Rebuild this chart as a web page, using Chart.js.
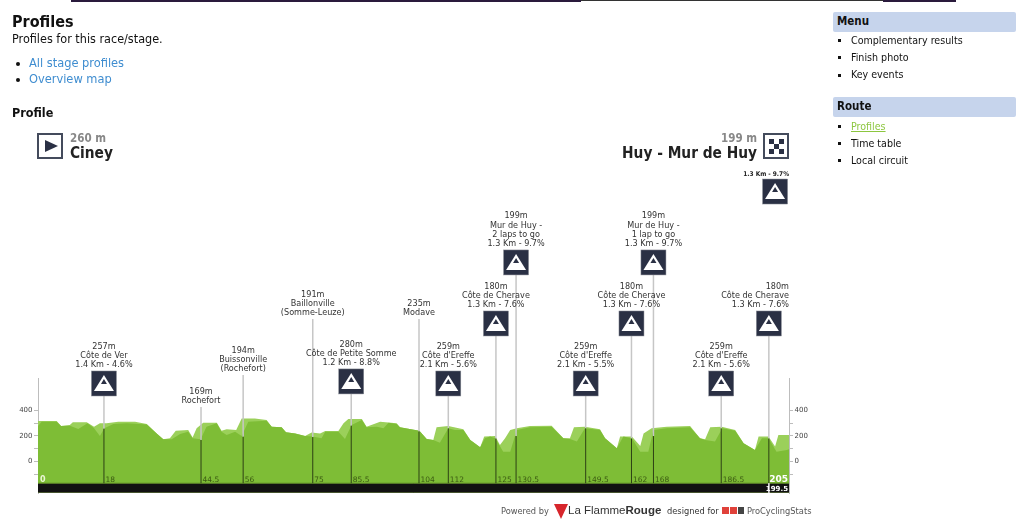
<!DOCTYPE html>
<html lang="en">
<head>
<meta charset="UTF-8">
<title>Profiles</title>
<script src="https://cdn.jsdelivr.net/npm/chart.js"></script>
<style>
    html, body { margin: 0; padding: 0; background: #fff; width: 1024px; height: 522px; overflow: hidden; }
    body { font-family: "DejaVu Sans Condensed", "DejaVu Sans", sans-serif; color: #111; position: relative; }
    #profile { position: absolute; left: 0; top: 0; }
    .t { position: absolute; white-space: nowrap; line-height: 1; }
    .bar { position: absolute; top: 0; }
    .box { position: absolute; left: 833px; width: 179px; height: 20px; padding-left: 4px; background: #c6d4ec; border-radius: 2px; font: bold 11.5px/19px "DejaVu Sans Condensed", "DejaVu Sans", sans-serif; }
    .sq { position: absolute; left: 838px; width: 3px; height: 3px; background: #111; }
    .dot { position: absolute; left: 16px; width: 4px; height: 4px; border-radius: 50%; background: #111; }
    .side { left: 851px; font-size: 10.6px; }
    a { color: #3f8dd0; text-decoration: none; }
    .foot { color: #555; font-size: 9.2px; top: 506px; }
</style>
</head>
<body>
<canvas id="profile" width="1024" height="522"></canvas>

<div class="bar" style="left:71px;width:510px;height:2px;background:#2a1a3c"></div>
<div class="bar" style="left:581px;width:302px;height:1px;background:#333"></div>
<div class="bar" style="left:883px;width:73px;height:2px;background:#2a1a3c"></div>

<div class="t" style="left:12px;top:14px;font-size:16px;font-weight:bold">Profiles</div>
<div class="t" style="left:12px;top:33px;font-size:12.5px">Profiles for this race/stage.</div>
<div class="dot" style="top:62px"></div>
<div class="t" style="left:29px;top:57px;font-size:12.7px"><a href="#">All stage profiles</a></div>
<div class="dot" style="top:78px"></div>
<div class="t" style="left:29px;top:73px;font-size:12.7px"><a href="#">Overview map</a></div>
<div class="t" style="left:12px;top:107px;font-size:12.5px;font-weight:bold">Profile</div>

<div class="t" style="left:70px;top:133px;font-size:11.5px;font-weight:bold;color:#888">260 m</div>
<div class="t" style="left:70px;top:146px;font-size:15.3px;font-weight:bold;color:#222">Ciney</div>
<div class="t" style="right:267px;top:133px;font-size:11.5px;font-weight:bold;color:#888">199 m</div>
<div class="t" style="right:267px;top:146px;font-size:15.3px;font-weight:bold;color:#222">Huy - Mur de Huy</div>

<div class="box" style="top:12px">Menu</div>
<div class="sq" style="top:39px"></div><div class="t side" style="top:35px">Complementary results</div>
<div class="sq" style="top:56px"></div><div class="t side" style="top:52px">Finish photo</div>
<div class="sq" style="top:74px"></div><div class="t side" style="top:69px">Key events</div>
<div class="box" style="top:97px">Route</div>
<div class="sq" style="top:125px"></div><div class="t side" style="top:121px;color:#8cc63f;text-decoration:underline">Profiles</div>
<div class="sq" style="top:142px"></div><div class="t side" style="top:138px">Time table</div>
<div class="sq" style="top:159px"></div><div class="t side" style="top:155px">Local circuit</div>

<div class="t foot" style="left:501px">Powered by</div>
<svg style="position:absolute;left:554px;top:504px" width="14" height="15"><path d="M0 0H14L7 15Z" fill="#d7262c"/></svg>
<div class="t" style="left:568px;top:505px;font-size:11.5px;font-family:'Liberation Sans',sans-serif;color:#333">La Flamme<b>Rouge</b></div>
<div class="t foot" style="left:667px;color:#333">designed for</div>
<div style="position:absolute;left:722px;top:507px;width:7px;height:7px;background:#e0413a"></div>
<div style="position:absolute;left:730px;top:507px;width:7px;height:7px;background:#e0413a"></div>
<div style="position:absolute;left:738px;top:507px;width:6px;height:7px;background:#444"></div>
<div class="t foot" style="left:747px">ProCyclingStats</div>

<script>
// profile, km and metres
const lightKm = [0, 1.9, 5.1, 6.3, 8.7, 9.5, 13.3, 15.3, 16.9, 18.7, 21.9, 26.5, 29.7, 32.4, 34.2, 36, 37.6, 41, 42.2, 43.3, 45.1, 48.8, 50.1, 51.5, 54.1, 55.6, 59.2, 62.4, 63.8, 66.5, 67.7, 70.2, 72.9, 74.7, 77, 78.4, 82, 83.4, 84.7, 88.4, 89.7, 93.4, 97.9, 98.8, 104.1, 106.1, 107.9, 108.8, 112, 116.1, 118, 120.7, 121.8, 124.8, 126.1, 127.5, 128.9, 130.7, 134.3, 140.2, 143.4, 145.2, 146.3, 149.3, 153.4, 154.8, 158, 158.9, 162.1, 164.4, 165.3, 167.5, 171.6, 178, 180.7, 182.1, 183.5, 186.6, 190.3, 192.6, 195.7, 196.7, 199.4, 201.2, 202.1, 205];
const lightElev = [316, 316, 316, 278, 285, 306, 306, 272, 298, 298, 311, 311, 293, 220, 174, 182, 241, 246, 187, 259, 303, 303, 241, 252, 246, 335, 335, 324, 272, 267, 228, 220, 200, 226, 220, 239, 239, 298, 332, 332, 272, 311, 298, 267, 241, 176, 169, 267, 278, 252, 169, 112, 195, 200, 130, 182, 246, 259, 278, 280, 182, 182, 267, 272, 252, 182, 104, 195, 195, 122, 220, 259, 272, 278, 182, 174, 267, 272, 246, 143, 91, 195, 195, 117, 208, 208];
const darkKm = [0, 1, 5.1, 6.3, 8.7, 11, 13.5, 15.3, 16.9, 18.1, 20.6, 24.2, 29.7, 32.4, 34.2, 36.5, 38.8, 41, 42.2, 44.4, 46, 48.8, 50.1, 51.5, 53.8, 55.6, 57.4, 62.4, 63.8, 66.5, 67.7, 70.2, 72.9, 74.9, 77.4, 78.4, 82, 83.8, 85.6, 88.4, 89.7, 92.5, 94.3, 95.7, 97.9, 98.8, 104.1, 106.1, 107.9, 109.7, 112, 113.8, 116.1, 118, 120.7, 122, 123.4, 124.8, 127, 128.9, 130.7, 134.3, 140.2, 143.4, 145.2, 147.1, 149.3, 153.4, 154.8, 158, 159.8, 162.1, 164.4, 166.6, 168, 171.6, 178, 180.7, 182.1, 184.8, 186.8, 190.3, 192.6, 195.7, 197.6, 199.4, 201.6, 204.4, 205];
const darkElev = [278, 311, 311, 278, 280, 254, 298, 259, 200, 259, 293, 298, 290, 220, 174, 174, 215, 233, 182, 174, 272, 298, 233, 208, 233, 200, 311, 319, 272, 267, 228, 220, 200, 195, 182, 233, 233, 176, 285, 324, 267, 272, 259, 303, 293, 267, 241, 176, 169, 148, 259, 246, 246, 169, 112, 182, 195, 182, 78, 78, 246, 267, 272, 182, 176, 156, 259, 246, 182, 104, 195, 182, 78, 78, 246, 259, 267, 182, 169, 156, 259, 241, 143, 91, 182, 182, 78, 91, 96];

// markers along the route
const markerKm = [18, 44.5, 56, 75, 85.5, 104, 112, 125, 130.5, 149.5, 162, 168, 186.5, 199.5];
const markerElev = [257, 169, 194, 191, 280, 235, 259, 180, 199, 259, 180, 199, 259, 180];
const markerTop = [511, 426, 675, 1110, 527, 1110, 511, 978, 1453, 511, 978, 1453, 511, 978];
const markerClimb = [true, false, false, false, true, false, true, true, true, true, true, true, true, true];
const markerText = [
    ['257m', 'Côte de Ver', '1.4 Km - 4.6%'],
    ['169m', 'Rochefort'],
    ['194m', 'Buissonville', '(Rochefort)'],
    ['191m', 'Baillonville', '(Somme-Leuze)'],
    ['280m', 'Côte de Petite Somme', '1.2 Km - 8.8%'],
    ['235m', 'Modave'],
    ['259m', "Côte d'Ereffe", '2.1 Km - 5.6%'],
    ['180m', 'Côte de Cherave', '1.3 Km - 7.6%'],
    ['199m', 'Mur de Huy -', '2 laps to go', '1.3 Km - 9.7%'],
    ['259m', "Côte d'Ereffe", '2.1 Km - 5.5%'],
    ['180m', 'Côte de Cherave', '1.3 Km - 7.6%'],
    ['199m', 'Mur de Huy -', '1 lap to go', '1.3 Km - 9.7%'],
    ['259m', "Côte d'Ereffe", '2.1 Km - 5.6%'],
    ['180m', 'Côte de Cherave', '1.3 Km - 7.6%']
];
const kmLabels = ['18', '44.5', '56', '75', '85.5', '104', '112', '125', '130.5', '149.5', '162', '168', '186.5'];
const yTicks = [-100, 0, 100, 200, 300, 400];
const yLabels = [0, 200, 400];

// finish climb sign, sits on its own above the finish
const finishKm = 201.2;
const finishTop = 2005;
const finishText = '1.3 Km - 9.7%';

const groundLevel = -168;
const bandLevel = -244;
const LABEL_FONT = '9px "DejaVu Sans Condensed", "DejaVu Sans", sans-serif';

function zip(xs, ys) { return xs.map((x, i) => ({ x: x, y: ys[i] })); }

function mountainSign(ctx, x, bottom) {
    const left = x - 12.5, top = bottom - 25;
    ctx.fillStyle = '#2a3044';
    ctx.fillRect(left, top, 25, 25);
    ctx.strokeStyle = '#8a8d96';
    ctx.lineWidth = 0.5;
    ctx.strokeRect(left, top, 25, 25);
    ctx.fillStyle = '#fff';
    ctx.beginPath();
    ctx.moveTo(x - 10, bottom - 5);
    ctx.lineTo(x, bottom - 21);
    ctx.lineTo(x + 10, bottom - 5);
    ctx.closePath();
    ctx.fill();
    ctx.fillStyle = '#2a3044';
    ctx.beginPath();
    ctx.moveTo(x - 3, bottom - 12);
    ctx.lineTo(x, bottom - 17);
    ctx.lineTo(x + 3, bottom - 12);
    ctx.closePath();
    ctx.fill();
}

// signs, marker texts, start and finish flags
const signsPlugin = {
    id: 'signs',
    afterDatasetsDraw(chart) {
        const ctx = chart.ctx, xs = chart.scales.x, ys = chart.scales.y;
        const area = chart.chartArea;
        ctx.save();

        markerKm.forEach((km, i) => {
            const x = xs.getPixelForValue(km);
            let bottom = ys.getPixelForValue(markerTop[i]);
            if (markerClimb[i]) {
                mountainSign(ctx, x, bottom);
                bottom -= 25;
            }
            ctx.font = LABEL_FONT;
            ctx.fillStyle = '#333';
            const lines = markerText[i];
            const widest = Math.max(...lines.map(l => ctx.measureText(l).width));
            const overflow = x + widest / 2 > area.right;
            ctx.textAlign = overflow ? 'right' : 'center';
            lines.forEach((line, n) => {
                ctx.fillText(line, overflow ? area.right : x, bottom - 4 - (lines.length - 1 - n) * 9.2);
            });
        });

        mountainSign(ctx, xs.getPixelForValue(finishKm), ys.getPixelForValue(finishTop));
        ctx.font = 'bold 6.5px "DejaVu Sans Condensed", "DejaVu Sans", sans-serif';
        ctx.fillStyle = '#222';
        ctx.textAlign = 'right';
        ctx.fillText(finishText, area.right, ys.getPixelForValue(finishTop) - 28);

        // km labels on the ground line
        const base = ys.getPixelForValue(groundLevel) - 1.5;
        ctx.font = '7.5px "DejaVu Sans", sans-serif';
        ctx.textAlign = 'left';
        ctx.fillStyle = '#3b5a12';
        kmLabels.forEach((label, i) => ctx.fillText(label, xs.getPixelForValue(markerKm[i]) + 1.5, base));
        ctx.fillStyle = '#eaf6d4';
        ctx.font = 'bold 8px "DejaVu Sans", sans-serif';
        ctx.fillText('0', area.left + 2, base);
        ctx.textAlign = 'right';
        ctx.font = 'bold 9px "DejaVu Sans", sans-serif';
        ctx.fillStyle = '#fff';
        ctx.fillText('205', area.right - 1, base);
        ctx.font = 'bold 7px "DejaVu Sans", sans-serif';
        ctx.fillText('199.5', area.right - 1, ys.getPixelForValue(bandLevel) - 2);

        // start flag
        ctx.strokeStyle = '#444b5c';
        ctx.lineWidth = 2;
        ctx.strokeRect(38, 134, 24, 24);
        ctx.fillStyle = '#2a3044';
        ctx.beginPath();
        ctx.moveTo(45, 140);
        ctx.lineTo(58, 146);
        ctx.lineTo(45, 152);
        ctx.closePath();
        ctx.fill();

        // finish flag
        ctx.strokeRect(764, 134, 24, 24);
        for (let r = 0; r < 3; r++) {
            for (let c = 0; c < 3; c++) {
                if ((r + c) % 2 === 0) ctx.fillRect(769 + c * 5, 139 + r * 5, 5, 5);
            }
        }
        ctx.restore();
    }
};

const datasets = [
    { data: zip(lightKm, lightElev), borderWidth: 0, backgroundColor: '#9bd05a', fill: { target: { value: groundLevel } }, order: 10 },
    { data: zip(darkKm, darkElev), borderWidth: 0, backgroundColor: '#7ebd36', fill: { target: { value: groundLevel } }, order: 9 },
    { data: zip([0, 205], [groundLevel, groundLevel]), borderWidth: 1, borderColor: '#5d8a22', backgroundColor: '#111', fill: 'start', order: 8 },
    { data: zip([0, 205], [bandLevel, bandLevel]), borderWidth: 1, borderColor: '#7f9a50', order: 7 }
];

markerKm.forEach((km, i) => {
    datasets.push({ data: zip([km, km], [markerElev[i], markerTop[i]]), borderWidth: 1.5, borderColor: '#c6c6c6', clip: false, order: 6 });
    datasets.push({ data: zip([km, km], [groundLevel, markerElev[i]]), borderWidth: 1, borderColor: '#2d4015', order: 5 });
});
// the short end mark for the lap line
datasets.push({ data: zip([199.5, 199.5], [groundLevel, bandLevel]), borderWidth: 1, borderColor: '#ddd', order: 4 });

function yAxis(position, width) {
    return {
        type: 'linear',
        position: position,
        min: bandLevel,
        max: 651,
        afterFit(scale) { scale.width = width; },
        afterBuildTicks(scale) { scale.ticks = yTicks.map(v => ({ value: v })); },
        border: { color: '#bdbdbd', width: 1 },
        grid: { drawOnChartArea: false, tickLength: 4, color: '#bdbdbd' },
        ticks: {
            autoSkip: false,
            padding: 1.5,
            color: '#444',
            font: { size: 7, family: '"DejaVu Sans", sans-serif' },
            callback: v => yLabels.includes(v) ? String(v) : ''
        }
    };
}

new Chart(document.getElementById('profile').getContext('2d'), {
    type: 'scatter',
    data: { datasets: datasets },
    plugins: [signsPlugin],
    options: {
        responsive: false,
        animation: false,
        showLine: true,
        layout: { padding: { top: 378, bottom: 29, left: 0, right: 0 } },
        elements: { point: { radius: 0 }, line: { tension: 0 } },
        plugins: { legend: { display: false }, tooltip: { enabled: false } },
        scales: {
            x: { type: 'linear', min: 0, max: 205, display: false },
            y: yAxis('left', 38),
            y2: yAxis('right', 235)
        }
    }
});
</script>
</body>
</html>
